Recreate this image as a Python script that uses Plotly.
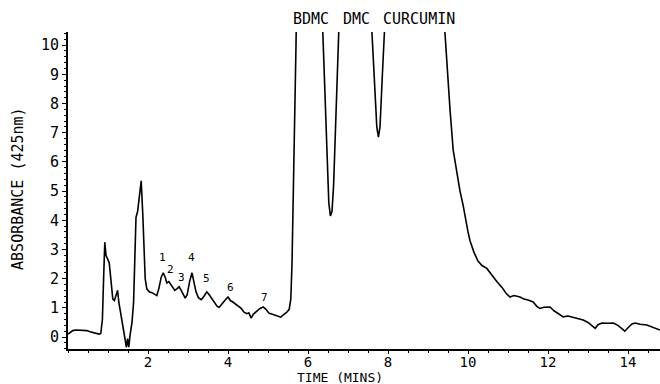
import plotly.graph_objects as go

# Chromatogram trace (time in minutes, absorbance at 425 nm); off-scale peaks are clipped by the axis range
time_min = [0.00, 0.05, 0.12, 0.20, 0.30, 0.40, 0.47, 0.55, 0.62, 0.70, 0.78, 0.82, 0.86, 0.89, 0.92,
            0.95, 0.99, 1.03, 1.07, 1.12, 1.16, 1.20, 1.24, 1.27, 1.32, 1.38, 1.43, 1.46, 1.49, 1.52,
            1.55, 1.60, 1.64, 1.67, 1.70, 1.74, 1.78, 1.83, 1.87, 1.90, 1.93, 1.97, 2.03, 2.10, 2.17,
            2.22, 2.27, 2.33, 2.38, 2.43, 2.47, 2.52, 2.57, 2.62, 2.67, 2.72, 2.78, 2.83, 2.88, 2.93,
            2.98, 3.04, 3.10, 3.15, 3.20, 3.26, 3.33, 3.40, 3.47, 3.53, 3.60, 3.67, 3.73, 3.78, 3.85,
            3.92, 4.00, 4.06, 4.12, 4.20, 4.27, 4.33, 4.40, 4.47, 4.52, 4.58, 4.63, 4.72, 4.80, 4.88,
            4.95, 5.02, 5.10, 5.18, 5.26, 5.32, 5.40, 5.47, 5.53, 5.57, 5.60, 5.63, 5.66, 5.70, 5.73,
            6.30, 6.37, 6.45, 6.52, 6.56, 6.60, 6.64, 6.70, 6.77, 6.85,
            7.50, 7.60, 7.66, 7.72, 7.76, 7.80, 7.86, 7.93, 8.00,
            9.30, 9.42, 9.55, 9.63, 9.72, 9.80, 9.88, 9.93, 10.00, 10.05, 10.15, 10.25, 10.35, 10.47,
            10.60, 10.72, 10.85, 10.95, 11.05, 11.15, 11.30, 11.40, 11.50, 11.63, 11.72, 11.80, 11.90,
            12.05, 12.15, 12.25, 12.38, 12.50, 12.60, 12.72, 12.80, 12.88, 13.00, 13.10, 13.18, 13.25,
            13.35, 13.50, 13.63, 13.75, 13.85, 13.92, 14.00, 14.10, 14.18, 14.30, 14.47, 14.60, 14.72, 14.80]
absorbance = [0.10, 0.15, 0.22, 0.24, 0.23, 0.24, 0.22, 0.18, 0.15, 0.12, 0.10, 0.12, 0.60, 2.00, 3.25,
              2.80, 2.70, 2.55, 2.00, 1.30, 1.25, 1.40, 1.60, 1.20, 0.80, 0.20, -0.20, -0.35, -0.05, -0.35,
              0.05, 0.50, 1.20, 2.80, 4.10, 4.30, 4.70, 5.35, 4.20, 2.90, 2.00, 1.65, 1.55, 1.52, 1.45,
              1.42, 1.65, 2.05, 2.20, 2.05, 1.85, 1.90, 1.80, 1.70, 1.60, 1.65, 1.72, 1.60, 1.45, 1.33,
              1.45, 1.90, 2.20, 1.90, 1.55, 1.35, 1.28, 1.40, 1.55, 1.45, 1.30, 1.15, 1.05, 1.02, 1.15,
              1.25, 1.37, 1.25, 1.20, 1.12, 1.05, 0.98, 0.85, 0.80, 0.83, 0.65, 0.78, 0.88, 0.98, 1.03,
              0.95, 0.82, 0.78, 0.75, 0.70, 0.68, 0.78, 0.85, 0.95, 1.30, 2.50, 4.50, 7.00, 10.00, 13.00,
              13.00, 10.45, 7.00, 4.60, 4.15, 4.30, 5.20, 8.00, 10.50, 13.00,
              13.00, 10.40, 8.80, 7.20, 6.85, 7.20, 9.00, 10.50, 13.00,
              13.00, 10.40, 7.80, 6.40, 5.60, 5.00, 4.50, 4.10, 3.60, 3.30, 2.90, 2.60, 2.45, 2.35,
              2.10, 1.90, 1.70, 1.50, 1.37, 1.42, 1.37, 1.30, 1.27, 1.20, 1.05, 0.98, 1.02,
              1.03, 0.90, 0.82, 0.69, 0.72, 0.68, 0.65, 0.60, 0.58, 0.50, 0.40, 0.30, 0.42,
              0.48, 0.47, 0.48, 0.40, 0.30, 0.20, 0.32, 0.45, 0.48, 0.44, 0.41, 0.35, 0.30, 0.24]

# Peak number labels
peak_labels = ["1", "2", "3", "4", "5", "6", "7"]
peak_label_t = [2.35, 2.55, 2.83, 3.08, 3.45, 4.05, 4.92]
peak_label_y = [2.74, 2.33, 2.05, 2.71, 1.99, 1.71, 1.37]

# Compound labels above the clipped peaks
compound_labels = ["BDMC", "DMC", "CURCUMIN"]
compound_t = [6.08, 7.20, 8.78]

x_ticks = [2, 4, 6, 8, 10, 12, 14]
y_ticks = [0, 1, 2, 3, 4, 5, 6, 7, 8, 9, 10]

FONT = "DejaVu Sans Mono"

fig = go.Figure()
fig.add_trace(go.Scatter(x=time_min, y=absorbance, mode="lines",
                         line=dict(color="black", width=1.6), showlegend=False))

annotations = []
for lab, t, y in zip(peak_labels, peak_label_t, peak_label_y):
    annotations.append(dict(x=t, y=y, xref="x", yref="y", text=lab, showarrow=False,
                            xanchor="center", yanchor="middle",
                            font=dict(family=FONT, size=11, color="black")))
for lab, t in zip(compound_labels, compound_t):
    annotations.append(dict(x=t, y=1.041, xref="x", yref="paper", text=lab, showarrow=False,
                            xanchor="center", yanchor="middle",
                            font=dict(family=FONT, size=15, color="black")))
annotations.append(dict(x=-0.0845, y=0.508, xref="paper", yref="paper", text="ABSORBANCE (425nm)",
                        textangle=-90, showarrow=False, xanchor="center", yanchor="middle",
                        font=dict(family=FONT, size=15, color="black")))
annotations.append(dict(x=0.459, y=-0.09, xref="paper", yref="paper", text="TIME (MINS)",
                        showarrow=False, xanchor="center", yanchor="middle",
                        font=dict(family=FONT, size=13, color="black")))

fig.update_layout(
    width=660, height=384,
    margin=dict(l=68, r=0, t=32, b=35),
    paper_bgcolor="white", plot_bgcolor="white",
    font=dict(family=FONT, size=15, color="black"),
    annotations=annotations,
    xaxis=dict(range=[0, 14.8], tickvals=x_ticks, ticktext=[str(v) for v in x_ticks],
               showline=True, linecolor="black", linewidth=2, showgrid=False, zeroline=False,
               ticks="outside", ticklen=3, tickwidth=1, tickcolor="black",
               ticklabelstandoff=-4,
               minor=dict(dtick=0.5, ticks="outside", ticklen=2, tickcolor="black"),
               tickfont=dict(family=FONT, size=14)),
    yaxis=dict(range=[-0.41, 10.45], tickvals=y_ticks, ticktext=[str(v) for v in y_ticks],
               showline=True, linecolor="black", linewidth=2, showgrid=False, zeroline=False,
               ticks="outside", ticklen=4, tickwidth=1, tickcolor="black",
               minor=dict(dtick=0.2, ticks="outside", ticklen=2, tickcolor="black"),
               tickfont=dict(family=FONT, size=15)),
)

fig.write_html("out.html", config={"displayModeBar": False},
               post_script="document.body.style.margin='0';document.body.style.overflow='hidden';")
